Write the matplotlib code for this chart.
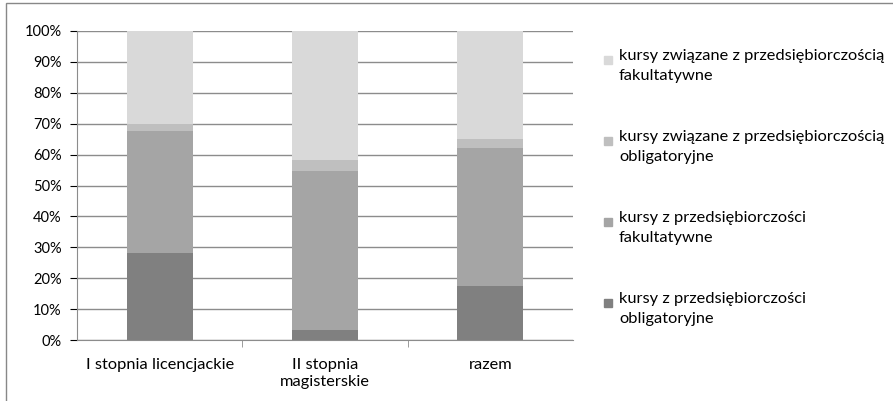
import matplotlib.pyplot as plt
import matplotlib.patches as mpatches
import numpy as np

plt.rcParams['font.family'] = ['Lato', 'DejaVu Sans']

# data (percent)
categories = ['I stopnia licencjackie', 'II stopnia\nmagisterskie', 'razem']
series_names = ['kursy z przedsiębiorczości\nobligatoryjne',
                'kursy z przedsiębiorczości\nfakultatywne',
                'kursy związane z przedsiębiorczością\nobligatoryjne',
                'kursy związane z przedsiębiorczością\nfakultatywne']
obl = [28.0, 3.2, 17.6]
fak = [39.6, 51.4, 44.6]
zw_obl = [2.2, 3.5, 2.8]
zw_fak = [30.2, 41.9, 35.0]
colors = ['#808080', '#a5a5a5', '#bfbfbf', '#d9d9d9']

W, H = 893, 401
fig = plt.figure(figsize=(W / 100, H / 100), dpi=100)
ax = fig.add_axes([77 / W, 1 - 340 / H, (573 - 77) / W, (340 - 31) / H])

# outer chart border
fig.patches.append(mpatches.Rectangle((6 / W, -0.1), 1.2, 1 - 3 / H + 0.1,
                                      transform=fig.transFigure, fill=False,
                                      edgecolor='#888888', linewidth=1.0))

x = np.arange(len(categories))
bottom = np.zeros(len(categories))
for vals, c in zip([obl, fak, zw_obl, zw_fak], colors):
    ax.bar(x, vals, 0.4, bottom=bottom, color=c, zorder=3)
    bottom += np.array(vals)

ax.set_xlim(-0.5, 2.5)
ax.set_ylim(0, 100)
ax.set_yticks(np.arange(0, 101, 10))
ax.set_yticklabels([f'{v}%' for v in range(0, 101, 10)])
ax.yaxis.grid(True, color='#8c8c8c', linewidth=1.0, zorder=0)
ax.set_xticks(x)
ax.set_xticklabels(categories, va='top', linespacing=1.3, fontsize=11.8)
ax.set_xticks([0.5, 1.5], minor=True)
ax.tick_params(axis='x', which='major', length=0, pad=13)
ax.tick_params(axis='x', which='minor', length=5, color='#8c8c8c', direction='out')
ax.tick_params(axis='y', length=5, color='#8c8c8c', pad=6, labelsize=10.5)
ax.tick_params(colors='#000000')
for s in ['top', 'right']:
    ax.spines[s].set_visible(False)
for s in ['left', 'bottom']:
    ax.spines[s].set_color('#8c8c8c')

# legend
leg_y = [60, 141, 222, 303]
for yy, c, name in zip(leg_y, colors[::-1], series_names[::-1]):
    fig.patches.append(mpatches.Rectangle((604 / W, 1 - (yy + 4) / H), 8 / W, 8 / H,
                                          transform=fig.transFigure, color=c))
    fig.text(619 / W, 1 - (yy - 11) / H, name, fontsize=11.8, va='top',
             linespacing=1.55)

fig.savefig('out.png', dpi=100)
